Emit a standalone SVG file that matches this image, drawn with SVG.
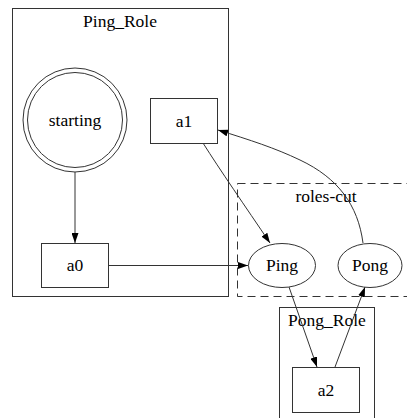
<svg xmlns="http://www.w3.org/2000/svg" width="407" height="418" viewBox="0 0 407 418">
<style>
text{font-family:'Liberation Serif','DejaVu Serif',serif;font-size:17.5px;fill:#000;text-anchor:middle}
.cl{fill:none;stroke:#333;stroke-width:1}
.dash{fill:none;stroke:#333;stroke-width:1;stroke-dasharray:8,5}
.nd{fill:#fff;stroke:#333;stroke-width:1}
.e{fill:none;stroke:#333;stroke-width:1;marker-end:url(#ah)}
</style>
<defs>
<marker id="ah" markerWidth="10" markerHeight="7" refX="10" refY="3.5" orient="auto" markerUnits="userSpaceOnUse">
<path d="M0,0 L10,3.5 L0,7 z" fill="#000"/>
</marker>
</defs>
<g id="cluster_Ping_Role">
<rect class="cl" x="12.5" y="8.5" width="216" height="288"/>
<text x="120" y="27" font-family="Liberation Serif, serif">Ping_Role</text>
</g>
<g id="cluster_roles-cut">
<rect class="dash" x="237.5" y="183.5" width="180" height="113"/>
<text x="326" y="202">roles-cut</text>
</g>
<g id="cluster_Pong_Role">
<rect class="cl" x="279.5" y="307.5" width="95" height="120"/>
<text x="327" y="326">Pong_Role</text>
</g>
<g id="connectors">
<path class="e" d="M75,172 L75,243"/>
<path class="e" d="M109,265.5 L248,265.5"/>
<path class="e" d="M203,143 C220,170 245,206 270,243"/>
<path class="e" d="M363,243 C358,205 338,178 300,160 C275,148 250,140 218,130"/>
<path class="e" d="M289,287 L317,367"/>
<path class="e" d="M335,367 L365,287"/>
</g>
<g id="starting">
<circle class="nd" cx="75" cy="120" r="52"/>
<circle class="nd" cx="75" cy="120" r="47.5"/>
<text x="75" y="126">starting</text>
</g>
<g id="a1">
<rect class="nd" x="150.5" y="98.5" width="67" height="45"/>
<text x="184" y="127">a1</text>
</g>
<g id="a0">
<rect class="nd" x="41.5" y="243.5" width="67" height="44"/>
<text x="75" y="271">a0</text>
</g>
<g id="Ping">
<ellipse class="nd" cx="282" cy="265.5" rx="33.5" ry="22"/>
<text x="282" y="271">Ping</text>
</g>
<g id="Pong">
<ellipse class="nd" cx="370" cy="265.5" rx="32" ry="22"/>
<text x="370" y="271">Pong</text>
</g>
<g id="a2">
<rect class="nd" x="292.5" y="367.5" width="67" height="45"/>
<text x="326" y="396">a2</text>
</g>
</svg>
